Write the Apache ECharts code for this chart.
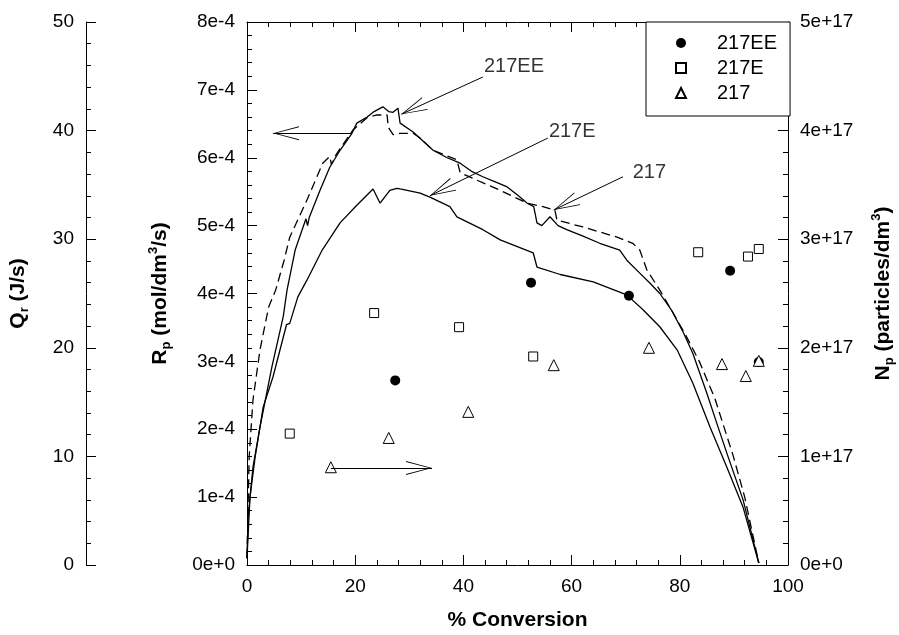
<!DOCTYPE html>
<html>
<head>
<meta charset="utf-8">
<script src="https://cdn.jsdelivr.net/npm/echarts@6/dist/echarts.min.js"></script>
<style>
html,body{margin:0;padding:0;background:#fff;}
#chart{width:899px;height:635px;}
</style>
</head>
<body>
<div id="chart"></div>
<script>
// ---- Rp curves (% conversion, mol/dm3/s) ----
const conv217EE = [0,0.2,1.1,2.4,4.6,6.7,7.4,8.9,10.9,11.2,11.5,13.5,15.3,17.2,19.4,20.3,22.2,23.5,25.1,26.2,27.0,27.9,28.3,30.7,34.4,37.0,39.4,41.5,43.6,46.0,48.1,50.0,51.8,53.0,53.6,54.5,56.0,57.5,59.1,62.0,65.2,68.9,70.2,72.6,74.5,76.3,78.5,80.5,82.4,85.0,87.0,88.9,91.7,94.6];
const rp217EE   = [0.1e-4,0.7e-4,1.44e-4,2.03e-4,2.92e-4,3.66e-4,4.05e-4,4.64e-4,5.1e-4,5.0e-4,5.12e-4,5.52e-4,5.86e-4,6.11e-4,6.36e-4,6.51e-4,6.6e-4,6.68e-4,6.75e-4,6.68e-4,6.67e-4,6.73e-4,6.51e-4,6.38e-4,6.11e-4,6.0e-4,5.92e-4,5.8e-4,5.72e-4,5.64e-4,5.57e-4,5.45e-4,5.33e-4,5.28e-4,5.04e-4,5.0e-4,5.13e-4,5.0e-4,4.94e-4,4.85e-4,4.74e-4,4.64e-4,4.49e-4,4.30e-4,4.15e-4,4.0e-4,3.75e-4,3.45e-4,3.12e-4,2.53e-4,2.05e-4,1.6e-4,0.96e-4,0.03e-4];

const conv217E = [0,0.55,1.5,3.0,4.8,7.3,7.9,9.4,11.1,13.9,17.2,20.3,23.3,24.6,26.4,27.7,28.3,32.0,33.8,37.5,38.8,43.6,46.8,52.9,53.6,57.9,64.0,70.2,73.2,76.3,79.5,82.4,85.6,88.7,91.7,94.6];
const rp217E   = [0.1e-4,1.0e-4,1.59e-4,2.33e-4,2.77e-4,3.54e-4,3.56e-4,3.95e-4,4.2e-4,4.64e-4,5.04e-4,5.30e-4,5.54e-4,5.33e-4,5.52e-4,5.55e-4,5.54e-4,5.48e-4,5.42e-4,5.28e-4,5.13e-4,4.94e-4,4.79e-4,4.6e-4,4.39e-4,4.28e-4,4.17e-4,3.98e-4,3.76e-4,3.51e-4,3.17e-4,2.68e-4,2.03e-4,1.44e-4,0.85e-4,0.03e-4];

const conv217 = [0,0.4,1.1,2.4,4.0,5.3,6.9,7.9,11.1,14.0,15.3,15.6,16.5,19.6,22.2,24.0,25.9,26.1,27.0,28.3,30.7,32.0,34.4,38.8,39.4,42.5,46.8,51.8,54.7,56.9,57.3,62.1,68.4,71.3,72.6,73.9,76.3,78.5,81.0,83.6,86.5,89.9,92.0,94.6];
const rp217   = [0.1e-4,1.59e-4,2.43e-4,3.17e-4,3.8e-4,4.05e-4,4.5e-4,4.83e-4,5.38e-4,5.92e-4,6.02e-4,5.9e-4,6.05e-4,6.41e-4,6.59e-4,6.63e-4,6.63e-4,6.45e-4,6.34e-4,6.36e-4,6.36e-4,6.29e-4,6.11e-4,5.97e-4,5.78e-4,5.67e-4,5.52e-4,5.33e-4,5.28e-4,5.23e-4,5.08e-4,4.98e-4,4.83e-4,4.74e-4,4.64e-4,4.35e-4,4.05e-4,3.75e-4,3.4e-4,3.0e-4,2.45e-4,1.6e-4,1.0e-4,0.03e-4];

// ---- Np points (% conversion, particles/dm3) ----
const ptConv217EE = [27.4,52.5,70.6,89.3,94.6];
const ptNp217EE   = [1.70e17,2.60e17,2.48e17,2.71e17,1.87e17];
const ptConv217E  = [7.9,23.5,39.2,52.9,83.4,92.6,94.6];
const ptNp217E    = [1.21e17,2.32e17,2.19e17,1.92e17,2.88e17,2.84e17,2.91e17];
const ptConv217   = [15.5,26.2,40.9,56.7,74.3,87.8,92.2,94.6];
const ptNp217     = [0.90e17,1.17e17,1.41e17,1.84e17,2.00e17,1.85e17,1.74e17,1.88e17];

// ---- annotations (data units on Rp axis) ----
const arrowFromX = [19.4,15.5,43.6,55.6,69.5];
const arrowFromY = [6.36e-4,1.43e-4,7.19e-4,6.29e-4,5.72e-4];
const arrowToX   = [4.8,34.2,28.5,33.8,56.7];
const arrowToY   = [6.36e-4,1.43e-4,6.64e-4,5.44e-4,5.23e-4];
const noteText = ['217EE','217E','217'];
const noteX    = [43.8,55.8,71.3];
const noteY    = [7.34e-4,6.39e-4,5.79e-4];

const FONT = 'Liberation Sans, Arial, Helvetica, sans-serif';
const zip = (a,b) => a.map((v,i)=>[v,b[i]]);
const fmtExp = (v, unit, exp) => {
  if (Math.abs(v) < unit*1e-6) return '0e+0';
  return Math.round(v/unit) + exp;
};
const chevron = 'path://M10,-30 L10.02,-30 L10,-29.98 Z M10,0 L20,30 L18.6,30 L10,3.2 L1.4,30 L0,30 Z';

const axisCommon = {
  axisLine:{show:true,onZero:false,lineStyle:{color:'#000',width:1}},
  axisTick:{show:true,inside:true,length:10,lineStyle:{color:'#000',width:1}},
  minorTick:{show:true,splitNumber:5,length:5,lineStyle:{color:'#000',width:1}},
  splitLine:{show:false},
  axisLabel:{color:'#000',fontSize:19,fontFamily:FONT,margin:12}
};
const nameRich = {
  t:{fontSize:21,fontWeight:'bold',fontFamily:FONT,color:'#000',lineHeight:26},
  s:{fontSize:13,fontWeight:'bold',fontFamily:FONT,color:'#000',lineHeight:14,verticalAlign:'bottom'},
  u:{fontSize:13,fontWeight:'bold',fontFamily:FONT,color:'#000',lineHeight:14,verticalAlign:'top'}
};

const chart = echarts.init(document.getElementById('chart'), null, {renderer:'canvas'});
chart.setOption({
  animation:false,
  backgroundColor:'#fff',
  textStyle:{fontFamily:FONT},
  grid:{left:247,right:111,top:22,bottom:70,containLabel:false,outerBoundsMode:'none'},
  legend:{
    orient:'vertical',left:646,top:22,
    padding:[11,13,13,29],itemGap:5,itemWidth:10,itemHeight:10,
    symbolKeepAspect:true,
    borderColor:'#000',borderWidth:1,backgroundColor:'#fff',
    textStyle:{fontSize:20,fontFamily:FONT,color:'#000',lineHeight:20,padding:[0,0,0,26]},
    data:['217EE','217E','217']
  },
  xAxis:[
    Object.assign({}, axisCommon, {
      type:'value',position:'bottom',min:0,max:100,interval:20,
      name:'% Conversion',nameLocation:'middle',nameGap:45,
      nameTextStyle:{fontSize:21,fontWeight:'bold',fontFamily:FONT,color:'#000'}
    }),
    Object.assign({}, axisCommon, {
      type:'value',position:'top',min:0,max:100,interval:20,
      axisLabel:{show:false}
    })
  ],
  yAxis:[
    Object.assign({}, axisCommon, {
      type:'value',position:'left',min:0,max:8e-4,interval:1e-4,
      axisLabel:Object.assign({}, axisCommon.axisLabel, {formatter:v=>fmtExp(v,1e-4,'e-4')}),
      name:'{t|R}{s|p}{t| (mol/dm}{u|3}{t|/s)}',nameLocation:'middle',nameRotate:90,nameGap:74,
      nameTextStyle:{rich:nameRich}
    }),
    Object.assign({}, axisCommon, {
      type:'value',position:'left',offset:161,min:0,max:50,interval:10,
      name:'{t|Q}{s|r}{t| (J/s)}',nameLocation:'middle',nameRotate:90,nameGap:55,
      nameTextStyle:{rich:nameRich}
    }),
    Object.assign({}, axisCommon, {
      type:'value',position:'right',min:0,max:5e17,interval:1e17,
      axisLabel:Object.assign({}, axisCommon.axisLabel, {formatter:v=>fmtExp(v,1e17,'e+17')}),
      name:'{t|N}{s|p}{t| (particles/dm}{u|3}{t|)}',nameLocation:'middle',nameRotate:90,nameGap:82,
      nameTextStyle:{rich:nameRich}
    })
  ],
  series:[
    {name:'Rp 217EE',type:'line',yAxisIndex:0,showSymbol:false,data:zip(conv217EE,rp217EE),
     lineStyle:{color:'#000',width:1.3}},
    {name:'Rp 217E',type:'line',yAxisIndex:0,showSymbol:false,data:zip(conv217E,rp217E),
     lineStyle:{color:'#000',width:1.3}},
    {name:'Rp 217',type:'line',yAxisIndex:0,showSymbol:false,data:zip(conv217,rp217),
     lineStyle:{color:'#000',width:1.3,type:[9,5]}},
    {name:'arrows',type:'line',yAxisIndex:0,data:[],
     markLine:{silent:true,symbol:['none',chevron],symbolSize:[14,52],
       lineStyle:{color:'#000',width:1,type:'solid'},label:{show:false},
       data:arrowFromX.map((x,i)=>[{coord:[x,arrowFromY[i]]},{coord:[arrowToX[i],arrowToY[i]]}])}},
    {name:'notes',type:'scatter',yAxisIndex:0,symbolSize:0,silent:true,
     data:noteX.map((x,i)=>({value:[x,noteY[i]],label:{formatter:noteText[i]}})),
     label:{show:true,position:'right',distance:0,fontSize:20,fontFamily:FONT,color:'#000'}},
    {name:'217EE',type:'scatter',yAxisIndex:2,symbol:'circle',symbolSize:10,symbolKeepAspect:true,
     itemStyle:{color:'#000',opacity:1},data:zip(ptConv217EE,ptNp217EE)},
    {name:'217E',type:'scatter',yAxisIndex:2,symbol:'rect',symbolSize:9,symbolKeepAspect:true,
     itemStyle:{color:'#fff',borderColor:'#000',borderWidth:1,opacity:1},data:zip(ptConv217E,ptNp217E)},
    {name:'217',type:'scatter',yAxisIndex:2,symbol:'triangle',symbolSize:11,symbolKeepAspect:true,
     itemStyle:{color:'#fff',borderColor:'#000',borderWidth:1,opacity:1},data:zip(ptConv217,ptNp217)}
  ]
});
</script>
</body>
</html>
